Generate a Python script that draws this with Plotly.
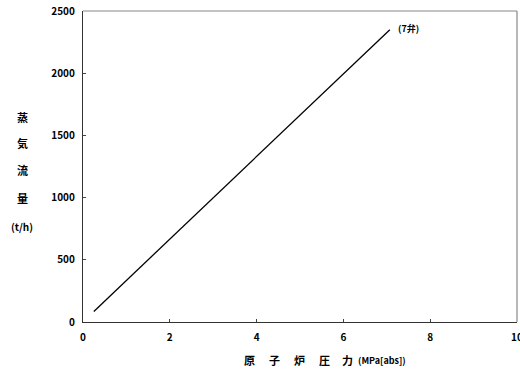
import plotly.graph_objects as go

pressure = [0.25, 7.07]
flow = [85, 2350]
x_ticks = [0, 2, 4, 6, 8, 10]
y_ticks = [0, 500, 1000, 1500, 2000, 2500]
y_title_chars = ["蒸", "気", "流", "量", "(t/h)"]
x_title_parts = ["原", "子", "炉", "圧", "力", "(MPa[abs])"]
end_label = "(7弁)"

FONT = "Noto Sans CJK JP"
L, R, T, B = 83, 3, 11, 49
W, H = 520, 371
PW, PH = W - L - R, H - T - B


def px_x(p):
    return (p - L) / PW


def px_y(p):
    return (H - B - p) / PH


fig = go.Figure()
fig.add_trace(go.Scatter(x=pressure, y=flow, mode="lines",
                         line=dict(color="black", width=1.3),
                         showlegend=False, hoverinfo="skip"))

fig.add_annotation(x=pressure[-1], y=flow[-1], text=f"<b>{end_label}</b>",
                   showarrow=False, xanchor="left", yanchor="middle",
                   xshift=6, yshift=1, font=dict(family=FONT, size=9, color="black"))

y_px = [117, 143, 170, 198, 226]
for ch, yp in zip(y_title_chars, y_px):
    fig.add_annotation(x=px_x(22), y=px_y(yp), xref="paper", yref="paper",
                       text=f"<b>{ch}</b>", showarrow=False, xanchor="center",
                       yanchor="middle",
                       font=dict(family=FONT, size=11 if len(ch) == 1 else 10,
                                 color="black"))

x_px = [249, 274, 299, 324, 347.5, 356]
for i, (part, xp) in enumerate(zip(x_title_parts, x_px)):
    fig.add_annotation(x=px_x(xp), y=px_y(360), xref="paper", yref="paper",
                       text=f"<b>{part}</b>", showarrow=False, yanchor="middle",
                       xanchor="center" if i < 5 else "left",
                       font=dict(family=FONT, size=11 if i < 5 else 9, color="black"))

# light frame on top and right
fig.add_shape(type="line", xref="paper", yref="paper", x0=0, x1=1, y0=1, y1=1,
              line=dict(color="#888", width=1.2))
fig.add_shape(type="line", xref="paper", yref="paper", x0=1, x1=1, y0=0, y1=1,
              line=dict(color="#888", width=1.2))

axis_common = dict(showgrid=False, zeroline=False, ticks="inside", ticklen=3,
                   tickcolor="#444", linecolor="#333", linewidth=1.3, showline=True,
                   automargin=False, ticklabeloverflow="allow",
                   tickfont=dict(family=FONT, size=10, color="black"))

fig.update_xaxes(range=[0, 10], tickvals=x_ticks, ticklabelstandoff=6,
                 ticktext=[f"<b>{v}</b>" for v in x_ticks], **axis_common)
fig.update_yaxes(range=[0, 2500], tickvals=y_ticks, ticklabelstandoff=5,
                 ticktext=[f"<b>{v}</b>" for v in y_ticks], **axis_common)

fig.update_layout(width=W, height=H, margin=dict(l=L, r=R, t=T, b=B),
                  plot_bgcolor="white", paper_bgcolor="white",
                  font=dict(family=FONT))

fig.write_html("out.html", config={"displayModeBar": False},
               post_script="document.body.style.margin='0';document.body.style.overflow='hidden';")
